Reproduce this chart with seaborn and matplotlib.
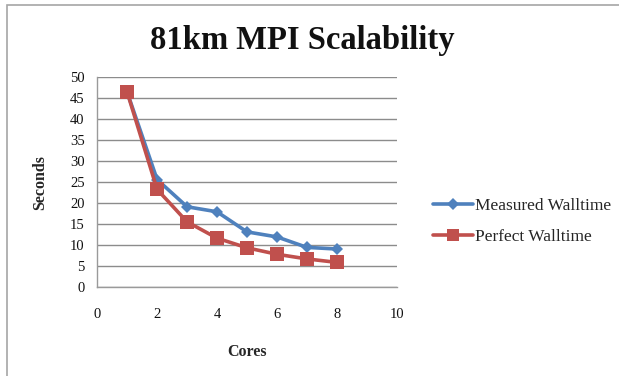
import matplotlib
matplotlib.use("Agg")
import matplotlib.pyplot as plt
import seaborn as sns
import pandas as pd
from matplotlib.patches import Rectangle

cores = [1, 2, 3, 4, 5, 6, 7, 8]
measured_walltime = [46.5, 25.6, 19.1, 17.9, 13.1, 11.9, 9.4, 9.0]
perfect_walltime = [46.5, 23.25, 15.5, 11.6, 9.3, 7.75, 6.64, 5.81]
series_names = ["Measured Walltime", "Perfect Walltime"]
x_ticks = [0, 2, 4, 6, 8, 10]
y_ticks = [0, 5, 10, 15, 20, 25, 30, 35, 40, 45, 50]

df = pd.DataFrame({
    "Cores": cores * 2,
    "Seconds": measured_walltime + perfect_walltime,
    "Series": [series_names[0]] * len(cores) + [series_names[1]] * len(cores),
})

sns.set_theme(style="white")
plt.rcParams["font.family"] = ["Liberation Serif", "DejaVu Serif"]

fig = plt.figure(figsize=(6.19, 3.76), dpi=100)
ax = fig.add_axes([0.157, 0.2375, 0.484, 0.5565])

palette = {series_names[0]: "#4F81BD", series_names[1]: "#C0504D"}
sns.lineplot(data=df, x="Cores", y="Seconds", hue="Series", style="Series",
             markers={series_names[0]: "D", series_names[1]: "s"},
             dashes=False, palette=palette, linewidth=2.6,
             markersize=7, markeredgewidth=0, ax=ax, legend=False)
# larger square markers for the ideal curve
for line in ax.get_lines():
    if line.get_marker() == "s":
        line.set_markersize(9.5)
    elif line.get_marker() == "D":
        line.set_markersize(6.5)

ax.set_xlim(0, 10)
ax.set_ylim(0, 50)
ax.set_xticks(x_ticks)
ax.set_yticks(y_ticks)
ax.yaxis.grid(True, color="#8c8c8c", linewidth=1.0)
ax.xaxis.grid(False)
for side in ("top", "right"):
    ax.spines[side].set_visible(False)
for side in ("left", "bottom"):
    ax.spines[side].set_color("#9a9a9a")
    ax.spines[side].set_linewidth(1.0)
ax.tick_params(axis="both", direction="out", length=5, width=1, color="#9a9a9a",
               labelsize=10.5, labelcolor="#111111", pad=4)
ax.tick_params(axis="x", pad=10)
ax.set_xlabel("Cores", fontsize=11.5, fontweight="bold", labelpad=17)
ax.set_ylabel("Seconds", fontsize=11.5, fontweight="bold", labelpad=16)

fig.text(0.488, 0.893, "81km MPI Scalability", ha="center", va="center",
         fontsize=23.5, fontweight="bold", color="#111111")

handles = [
    plt.Line2D([], [], color=palette[series_names[0]], marker="D", markersize=6.5,
               linewidth=2.6, markeredgewidth=0),
    plt.Line2D([], [], color=palette[series_names[1]], marker="s", markersize=9,
               linewidth=2.6, markeredgewidth=0),
]
fig.legend(handles, series_names, loc="center left", bbox_to_anchor=(0.675, 0.412),
           frameon=False, fontsize=12.5, handlelength=2.3, handletextpad=0.1,
           labelspacing=0.85)

# outer chart-area frame
fig.add_artist(Rectangle((7 / 619, -0.1), 1.0, 1 - 5 / 376 + 0.1,
                         transform=fig.transFigure, fill=False,
                         edgecolor="#a6a6a6", linewidth=1.2))

fig.savefig("out.png", dpi=100, facecolor="white")
